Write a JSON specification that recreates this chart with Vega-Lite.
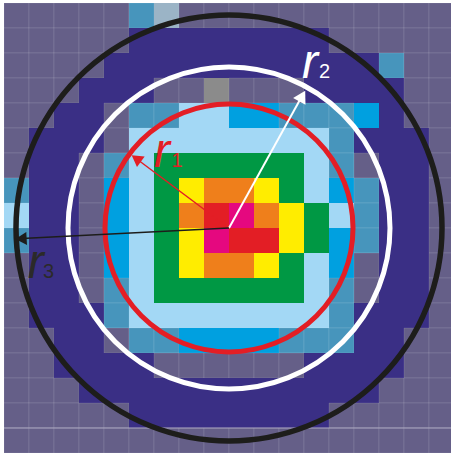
{
 "$schema": "https://vega.github.io/schema/vega-lite/v6.json",
 "width": 447, "height": 450,
 "autosize": {"type": "none"},
 "padding": {"left": 4, "top": 3, "right": 0, "bottom": 0},
 "background": "white",
 "config": {"view": {"stroke": null}},
 "datasets": {
  "cells": [
{"c":0,"r":0,"k":"b"},{"c":1,"r":0,"k":"b"},{"c":2,"r":0,"k":"b"},{"c":3,"r":0,"k":"b"},{"c":4,"r":0,"k":"b"},{"c":5,"r":0,"k":"s"},{"c":6,"r":0,"k":"p"},{"c":7,"r":0,"k":"b"},{"c":8,"r":0,"k":"b"},{"c":9,"r":0,"k":"b"},{"c":10,"r":0,"k":"b"},{"c":11,"r":0,"k":"b"},{"c":12,"r":0,"k":"b"},{"c":13,"r":0,"k":"b"},{"c":14,"r":0,"k":"b"},{"c":15,"r":0,"k":"b"},{"c":16,"r":0,"k":"b"},{"c":17,"r":0,"k":"b"},
{"c":0,"r":1,"k":"b"},{"c":1,"r":1,"k":"b"},{"c":2,"r":1,"k":"b"},{"c":3,"r":1,"k":"b"},{"c":4,"r":1,"k":"b"},{"c":5,"r":1,"k":"n"},{"c":6,"r":1,"k":"n"},{"c":7,"r":1,"k":"n"},{"c":8,"r":1,"k":"n"},{"c":9,"r":1,"k":"n"},{"c":10,"r":1,"k":"n"},{"c":11,"r":1,"k":"n"},{"c":12,"r":1,"k":"n"},{"c":13,"r":1,"k":"b"},{"c":14,"r":1,"k":"b"},{"c":15,"r":1,"k":"b"},{"c":16,"r":1,"k":"b"},{"c":17,"r":1,"k":"b"},
{"c":0,"r":2,"k":"b"},{"c":1,"r":2,"k":"b"},{"c":2,"r":2,"k":"b"},{"c":3,"r":2,"k":"b"},{"c":4,"r":2,"k":"n"},{"c":5,"r":2,"k":"n"},{"c":6,"r":2,"k":"n"},{"c":7,"r":2,"k":"n"},{"c":8,"r":2,"k":"n"},{"c":9,"r":2,"k":"n"},{"c":10,"r":2,"k":"n"},{"c":11,"r":2,"k":"n"},{"c":12,"r":2,"k":"n"},{"c":13,"r":2,"k":"n"},{"c":14,"r":2,"k":"n"},{"c":15,"r":2,"k":"s"},{"c":16,"r":2,"k":"b"},{"c":17,"r":2,"k":"b"},
{"c":0,"r":3,"k":"b"},{"c":1,"r":3,"k":"b"},{"c":2,"r":3,"k":"b"},{"c":3,"r":3,"k":"n"},{"c":4,"r":3,"k":"n"},{"c":5,"r":3,"k":"n"},{"c":6,"r":3,"k":"b"},{"c":7,"r":3,"k":"b"},{"c":8,"r":3,"k":"g"},{"c":9,"r":3,"k":"b"},{"c":10,"r":3,"k":"b"},{"c":11,"r":3,"k":"b"},{"c":12,"r":3,"k":"n"},{"c":13,"r":3,"k":"n"},{"c":14,"r":3,"k":"n"},{"c":15,"r":3,"k":"n"},{"c":16,"r":3,"k":"b"},{"c":17,"r":3,"k":"b"},
{"c":0,"r":4,"k":"b"},{"c":1,"r":4,"k":"b"},{"c":2,"r":4,"k":"n"},{"c":3,"r":4,"k":"n"},{"c":4,"r":4,"k":"b"},{"c":5,"r":4,"k":"s"},{"c":6,"r":4,"k":"s"},{"c":7,"r":4,"k":"l"},{"c":8,"r":4,"k":"l"},{"c":9,"r":4,"k":"B"},{"c":10,"r":4,"k":"B"},{"c":11,"r":4,"k":"s"},{"c":12,"r":4,"k":"s"},{"c":13,"r":4,"k":"s"},{"c":14,"r":4,"k":"B"},{"c":15,"r":4,"k":"n"},{"c":16,"r":4,"k":"b"},{"c":17,"r":4,"k":"b"},
{"c":0,"r":5,"k":"b"},{"c":1,"r":5,"k":"n"},{"c":2,"r":5,"k":"n"},{"c":3,"r":5,"k":"n"},{"c":4,"r":5,"k":"b"},{"c":5,"r":5,"k":"l"},{"c":6,"r":5,"k":"l"},{"c":7,"r":5,"k":"l"},{"c":8,"r":5,"k":"l"},{"c":9,"r":5,"k":"l"},{"c":10,"r":5,"k":"l"},{"c":11,"r":5,"k":"l"},{"c":12,"r":5,"k":"l"},{"c":13,"r":5,"k":"s"},{"c":14,"r":5,"k":"n"},{"c":15,"r":5,"k":"n"},{"c":16,"r":5,"k":"n"},{"c":17,"r":5,"k":"b"},
{"c":0,"r":6,"k":"b"},{"c":1,"r":6,"k":"n"},{"c":2,"r":6,"k":"n"},{"c":3,"r":6,"k":"b"},{"c":4,"r":6,"k":"s"},{"c":5,"r":6,"k":"l"},{"c":6,"r":6,"k":"G"},{"c":7,"r":6,"k":"G"},{"c":8,"r":6,"k":"G"},{"c":9,"r":6,"k":"G"},{"c":10,"r":6,"k":"G"},{"c":11,"r":6,"k":"G"},{"c":12,"r":6,"k":"l"},{"c":13,"r":6,"k":"s"},{"c":14,"r":6,"k":"b"},{"c":15,"r":6,"k":"n"},{"c":16,"r":6,"k":"n"},{"c":17,"r":6,"k":"b"},
{"c":0,"r":7,"k":"s"},{"c":1,"r":7,"k":"n"},{"c":2,"r":7,"k":"n"},{"c":3,"r":7,"k":"b"},{"c":4,"r":7,"k":"B"},{"c":5,"r":7,"k":"l"},{"c":6,"r":7,"k":"G"},{"c":7,"r":7,"k":"y"},{"c":8,"r":7,"k":"o"},{"c":9,"r":7,"k":"o"},{"c":10,"r":7,"k":"y"},{"c":11,"r":7,"k":"G"},{"c":12,"r":7,"k":"l"},{"c":13,"r":7,"k":"B"},{"c":14,"r":7,"k":"s"},{"c":15,"r":7,"k":"n"},{"c":16,"r":7,"k":"n"},{"c":17,"r":7,"k":"b"},
{"c":0,"r":8,"k":"l"},{"c":1,"r":8,"k":"n"},{"c":2,"r":8,"k":"n"},{"c":3,"r":8,"k":"b"},{"c":4,"r":8,"k":"B"},{"c":5,"r":8,"k":"l"},{"c":6,"r":8,"k":"G"},{"c":7,"r":8,"k":"o"},{"c":8,"r":8,"k":"R"},{"c":9,"r":8,"k":"m"},{"c":10,"r":8,"k":"o"},{"c":11,"r":8,"k":"y"},{"c":12,"r":8,"k":"G"},{"c":13,"r":8,"k":"l"},{"c":14,"r":8,"k":"s"},{"c":15,"r":8,"k":"n"},{"c":16,"r":8,"k":"n"},{"c":17,"r":8,"k":"b"},
{"c":0,"r":9,"k":"s"},{"c":1,"r":9,"k":"n"},{"c":2,"r":9,"k":"n"},{"c":3,"r":9,"k":"b"},{"c":4,"r":9,"k":"B"},{"c":5,"r":9,"k":"l"},{"c":6,"r":9,"k":"G"},{"c":7,"r":9,"k":"y"},{"c":8,"r":9,"k":"m"},{"c":9,"r":9,"k":"R"},{"c":10,"r":9,"k":"R"},{"c":11,"r":9,"k":"y"},{"c":12,"r":9,"k":"G"},{"c":13,"r":9,"k":"B"},{"c":14,"r":9,"k":"s"},{"c":15,"r":9,"k":"n"},{"c":16,"r":9,"k":"n"},{"c":17,"r":9,"k":"b"},
{"c":0,"r":10,"k":"b"},{"c":1,"r":10,"k":"n"},{"c":2,"r":10,"k":"n"},{"c":3,"r":10,"k":"b"},{"c":4,"r":10,"k":"B"},{"c":5,"r":10,"k":"l"},{"c":6,"r":10,"k":"G"},{"c":7,"r":10,"k":"y"},{"c":8,"r":10,"k":"o"},{"c":9,"r":10,"k":"o"},{"c":10,"r":10,"k":"y"},{"c":11,"r":10,"k":"G"},{"c":12,"r":10,"k":"l"},{"c":13,"r":10,"k":"B"},{"c":14,"r":10,"k":"b"},{"c":15,"r":10,"k":"n"},{"c":16,"r":10,"k":"n"},{"c":17,"r":10,"k":"b"},
{"c":0,"r":11,"k":"b"},{"c":1,"r":11,"k":"n"},{"c":2,"r":11,"k":"n"},{"c":3,"r":11,"k":"b"},{"c":4,"r":11,"k":"s"},{"c":5,"r":11,"k":"l"},{"c":6,"r":11,"k":"G"},{"c":7,"r":11,"k":"G"},{"c":8,"r":11,"k":"G"},{"c":9,"r":11,"k":"G"},{"c":10,"r":11,"k":"G"},{"c":11,"r":11,"k":"G"},{"c":12,"r":11,"k":"l"},{"c":13,"r":11,"k":"s"},{"c":14,"r":11,"k":"b"},{"c":15,"r":11,"k":"n"},{"c":16,"r":11,"k":"n"},{"c":17,"r":11,"k":"b"},
{"c":0,"r":12,"k":"b"},{"c":1,"r":12,"k":"n"},{"c":2,"r":12,"k":"n"},{"c":3,"r":12,"k":"n"},{"c":4,"r":12,"k":"s"},{"c":5,"r":12,"k":"l"},{"c":6,"r":12,"k":"l"},{"c":7,"r":12,"k":"l"},{"c":8,"r":12,"k":"l"},{"c":9,"r":12,"k":"l"},{"c":10,"r":12,"k":"l"},{"c":11,"r":12,"k":"l"},{"c":12,"r":12,"k":"l"},{"c":13,"r":12,"k":"s"},{"c":14,"r":12,"k":"n"},{"c":15,"r":12,"k":"n"},{"c":16,"r":12,"k":"n"},{"c":17,"r":12,"k":"b"},
{"c":0,"r":13,"k":"b"},{"c":1,"r":13,"k":"b"},{"c":2,"r":13,"k":"n"},{"c":3,"r":13,"k":"n"},{"c":4,"r":13,"k":"b"},{"c":5,"r":13,"k":"s"},{"c":6,"r":13,"k":"s"},{"c":7,"r":13,"k":"B"},{"c":8,"r":13,"k":"B"},{"c":9,"r":13,"k":"B"},{"c":10,"r":13,"k":"B"},{"c":11,"r":13,"k":"s"},{"c":12,"r":13,"k":"s"},{"c":13,"r":13,"k":"s"},{"c":14,"r":13,"k":"n"},{"c":15,"r":13,"k":"n"},{"c":16,"r":13,"k":"b"},{"c":17,"r":13,"k":"b"},
{"c":0,"r":14,"k":"b"},{"c":1,"r":14,"k":"b"},{"c":2,"r":14,"k":"n"},{"c":3,"r":14,"k":"n"},{"c":4,"r":14,"k":"n"},{"c":5,"r":14,"k":"n"},{"c":6,"r":14,"k":"b"},{"c":7,"r":14,"k":"b"},{"c":8,"r":14,"k":"b"},{"c":9,"r":14,"k":"b"},{"c":10,"r":14,"k":"b"},{"c":11,"r":14,"k":"b"},{"c":12,"r":14,"k":"n"},{"c":13,"r":14,"k":"n"},{"c":14,"r":14,"k":"n"},{"c":15,"r":14,"k":"n"},{"c":16,"r":14,"k":"b"},{"c":17,"r":14,"k":"b"},
{"c":0,"r":15,"k":"b"},{"c":1,"r":15,"k":"b"},{"c":2,"r":15,"k":"b"},{"c":3,"r":15,"k":"n"},{"c":4,"r":15,"k":"n"},{"c":5,"r":15,"k":"n"},{"c":6,"r":15,"k":"n"},{"c":7,"r":15,"k":"n"},{"c":8,"r":15,"k":"n"},{"c":9,"r":15,"k":"n"},{"c":10,"r":15,"k":"n"},{"c":11,"r":15,"k":"n"},{"c":12,"r":15,"k":"n"},{"c":13,"r":15,"k":"n"},{"c":14,"r":15,"k":"n"},{"c":15,"r":15,"k":"b"},{"c":16,"r":15,"k":"b"},{"c":17,"r":15,"k":"b"},
{"c":0,"r":16,"k":"b"},{"c":1,"r":16,"k":"b"},{"c":2,"r":16,"k":"b"},{"c":3,"r":16,"k":"b"},{"c":4,"r":16,"k":"b"},{"c":5,"r":16,"k":"n"},{"c":6,"r":16,"k":"n"},{"c":7,"r":16,"k":"n"},{"c":8,"r":16,"k":"n"},{"c":9,"r":16,"k":"n"},{"c":10,"r":16,"k":"n"},{"c":11,"r":16,"k":"n"},{"c":12,"r":16,"k":"n"},{"c":13,"r":16,"k":"b"},{"c":14,"r":16,"k":"b"},{"c":15,"r":16,"k":"b"},{"c":16,"r":16,"k":"b"},{"c":17,"r":16,"k":"b"},
{"c":0,"r":17,"k":"b"},{"c":1,"r":17,"k":"b"},{"c":2,"r":17,"k":"b"},{"c":3,"r":17,"k":"b"},{"c":4,"r":17,"k":"b"},{"c":5,"r":17,"k":"b"},{"c":6,"r":17,"k":"b"},{"c":7,"r":17,"k":"b"},{"c":8,"r":17,"k":"b"},{"c":9,"r":17,"k":"b"},{"c":10,"r":17,"k":"b"},{"c":11,"r":17,"k":"b"},{"c":12,"r":17,"k":"b"},{"c":13,"r":17,"k":"b"},{"c":14,"r":17,"k":"b"},{"c":15,"r":17,"k":"b"},{"c":16,"r":17,"k":"b"},{"c":17,"r":17,"k":"b"}
  ]
 },
 "layer": [
  {
   "data": {"name": "cells"},
   "mark": {"type": "rect", "width": 25, "height": 25, "clip": true, "stroke": "#ffffff", "strokeWidth": 1},
   "encoding": {
    "x": {"field": "c", "type": "quantitative", "scale": {"domain": [-0.5, 17.38], "nice": false, "zero": false}, "axis": null},
    "y": {"field": "r", "type": "quantitative", "scale": {"domain": [-0.5, 17.5], "nice": false, "zero": false, "reverse": true}, "axis": null},
    "color": {"field": "k", "type": "nominal", "legend": null,
      "scale": {"domain": ["b","n","s","p","g","B","l","G","y","o","R","m"],
                "range": ["#655f88","#3a2f85","#4795bc","#9bb4c6","#8b8b8b","#00a0e0","#a3d8f5","#009844","#ffed00","#ef7f1b","#e31e25","#e5087f"]}},
    "strokeOpacity": {"condition": {"test": "datum.k === 'b' || datum.k === 's'", "value": 0.1}, "value": 0}
   }
  },
  {
   "data": {"values": [{"y": 16.5}]},
   "mark": {"type": "rule", "color": "#a7a3bd", "strokeWidth": 1.2},
   "encoding": {
    "y": {"field": "y", "type": "quantitative", "scale": {"domain": [-0.5, 17.5], "nice": false, "zero": false, "reverse": true}, "axis": null}
   }
  },
  {
   "data": {"values": [{"x": 8.5, "y": 8.5, "ring": "r1"}]},
   "mark": {"type": "point", "shape": "circle", "filled": false, "size": 61504, "stroke": "#e31e25", "strokeWidth": 5, "opacity": 1},
   "encoding": {
    "x": {"field": "x", "type": "quantitative", "scale": {"domain": [-0.5, 17.38], "nice": false, "zero": false}, "axis": null},
    "y": {"field": "y", "type": "quantitative", "scale": {"domain": [-0.5, 17.5], "nice": false, "zero": false, "reverse": true}, "axis": null}
   }
  },
  {
   "data": {"values": [{"x": 8.5, "y": 8.5, "ring": "r2"}]},
   "mark": {"type": "point", "shape": "circle", "filled": false, "size": 103684, "stroke": "#ffffff", "strokeWidth": 5, "opacity": 1},
   "encoding": {
    "x": {"field": "x", "type": "quantitative", "scale": {"domain": [-0.5, 17.38], "nice": false, "zero": false}, "axis": null},
    "y": {"field": "y", "type": "quantitative", "scale": {"domain": [-0.5, 17.5], "nice": false, "zero": false, "reverse": true}, "axis": null}
   }
  },
  {
   "data": {"values": [{"x": 8.5, "y": 8.5, "ring": "r3"}]},
   "mark": {"type": "point", "shape": "circle", "filled": false, "size": 181476, "stroke": "#1d1d1b", "strokeWidth": 5.5, "opacity": 1},
   "encoding": {
    "x": {"field": "x", "type": "quantitative", "scale": {"domain": [-0.5, 17.38], "nice": false, "zero": false}, "axis": null},
    "y": {"field": "y", "type": "quantitative", "scale": {"domain": [-0.5, 17.5], "nice": false, "zero": false, "reverse": true}, "axis": null}
   }
  },
  {
   "data": {"values": [{"x": 8.5, "y": 8.5, "x2": 4.81, "y2": 5.74}]},
   "mark": {"type": "rule", "color": "#e31e25", "strokeWidth": 1.5},
   "encoding": {
    "x": {"field": "x", "type": "quantitative", "scale": {"domain": [-0.5, 17.38], "nice": false, "zero": false}, "axis": null},
    "y": {"field": "y", "type": "quantitative", "scale": {"domain": [-0.5, 17.5], "nice": false, "zero": false, "reverse": true}, "axis": null},
    "x2": {"field": "x2"}, "y2": {"field": "y2"}
   }
  },
  {
   "data": {"values": [{"x": 8.5, "y": 8.5, "x2": 11.4, "y2": 3.26}]},
   "mark": {"type": "rule", "color": "#ffffff", "strokeWidth": 2},
   "encoding": {
    "x": {"field": "x", "type": "quantitative", "scale": {"domain": [-0.5, 17.38], "nice": false, "zero": false}, "axis": null},
    "y": {"field": "y", "type": "quantitative", "scale": {"domain": [-0.5, 17.5], "nice": false, "zero": false, "reverse": true}, "axis": null},
    "x2": {"field": "x2"}, "y2": {"field": "y2"}
   }
  },
  {
   "data": {"values": [{"x": 8.5, "y": 8.5, "x2": 0.22, "y2": 8.92}]},
   "mark": {"type": "rule", "color": "#1d1d1b", "strokeWidth": 1.5},
   "encoding": {
    "x": {"field": "x", "type": "quantitative", "scale": {"domain": [-0.5, 17.38], "nice": false, "zero": false}, "axis": null},
    "y": {"field": "y", "type": "quantitative", "scale": {"domain": [-0.5, 17.5], "nice": false, "zero": false, "reverse": true}, "axis": null},
    "x2": {"field": "x2"}, "y2": {"field": "y2"}
   }
  },
  {
   "data": {"values": [{"x": 4.79, "y": 5.72}]},
   "mark": {"type": "point", "shape": "triangle-up", "filled": true, "size": 170, "color": "#e31e25", "opacity": 1, "angle": 306},
   "encoding": {
    "x": {"field": "x", "type": "quantitative", "scale": {"domain": [-0.5, 17.38], "nice": false, "zero": false}, "axis": null},
    "y": {"field": "y", "type": "quantitative", "scale": {"domain": [-0.5, 17.5], "nice": false, "zero": false, "reverse": true}, "axis": null}
   }
  },
  {
   "data": {"values": [{"x": 11.43, "y": 3.22}]},
   "mark": {"type": "point", "shape": "triangle-up", "filled": true, "size": 200, "color": "#ffffff", "opacity": 1, "angle": 29},
   "encoding": {
    "x": {"field": "x", "type": "quantitative", "scale": {"domain": [-0.5, 17.38], "nice": false, "zero": false}, "axis": null},
    "y": {"field": "y", "type": "quantitative", "scale": {"domain": [-0.5, 17.5], "nice": false, "zero": false, "reverse": true}, "axis": null}
   }
  },
  {
   "data": {"values": [{"x": 0.18, "y": 8.93}]},
   "mark": {"type": "point", "shape": "triangle-up", "filled": true, "size": 170, "color": "#1d1d1b", "opacity": 1, "angle": 267},
   "encoding": {
    "x": {"field": "x", "type": "quantitative", "scale": {"domain": [-0.5, 17.38], "nice": false, "zero": false}, "axis": null},
    "y": {"field": "y", "type": "quantitative", "scale": {"domain": [-0.5, 17.5], "nice": false, "zero": false, "reverse": true}, "axis": null}
   }
  },
  {
   "data": {"values": [{"x": 5.5, "y": 6.06, "t": "r"}]},
   "mark": {"type": "text", "font": "Liberation Sans", "fontStyle": "italic", "fontSize": 48, "align": "left", "baseline": "alphabetic", "color": "#e31e25"},
   "encoding": {
    "x": {"field": "x", "type": "quantitative", "scale": {"domain": [-0.5, 17.38], "nice": false, "zero": false}, "axis": null},
    "y": {"field": "y", "type": "quantitative", "scale": {"domain": [-0.5, 17.5], "nice": false, "zero": false, "reverse": true}, "axis": null},
    "text": {"field": "t"}
   }
  },
  {
   "data": {"values": [{"x": 6.2, "y": 6.06, "t": "1"}]},
   "mark": {"type": "text", "font": "Liberation Sans", "fontSize": 20, "align": "left", "baseline": "alphabetic", "color": "#e31e25"},
   "encoding": {
    "x": {"field": "x", "type": "quantitative", "scale": {"domain": [-0.5, 17.38], "nice": false, "zero": false}, "axis": null},
    "y": {"field": "y", "type": "quantitative", "scale": {"domain": [-0.5, 17.5], "nice": false, "zero": false, "reverse": true}, "axis": null},
    "text": {"field": "t"}
   }
  },
  {
   "data": {"values": [{"x": 11.42, "y": 2.5, "t": "r"}]},
   "mark": {"type": "text", "font": "Liberation Sans", "fontStyle": "italic", "fontSize": 48, "align": "left", "baseline": "alphabetic", "color": "#ffffff"},
   "encoding": {
    "x": {"field": "x", "type": "quantitative", "scale": {"domain": [-0.5, 17.38], "nice": false, "zero": false}, "axis": null},
    "y": {"field": "y", "type": "quantitative", "scale": {"domain": [-0.5, 17.5], "nice": false, "zero": false, "reverse": true}, "axis": null},
    "text": {"field": "t"}
   }
  },
  {
   "data": {"values": [{"x": 12.1, "y": 2.5, "t": "2"}]},
   "mark": {"type": "text", "font": "Liberation Sans", "fontSize": 20, "align": "left", "baseline": "alphabetic", "color": "#ffffff"},
   "encoding": {
    "x": {"field": "x", "type": "quantitative", "scale": {"domain": [-0.5, 17.38], "nice": false, "zero": false}, "axis": null},
    "y": {"field": "y", "type": "quantitative", "scale": {"domain": [-0.5, 17.5], "nice": false, "zero": false, "reverse": true}, "axis": null},
    "text": {"field": "t"}
   }
  },
  {
   "data": {"values": [{"x": 0.45, "y": 10.5, "t": "r"}]},
   "mark": {"type": "text", "font": "Liberation Sans", "fontStyle": "italic", "fontSize": 48, "align": "left", "baseline": "alphabetic", "color": "#2b2a29"},
   "encoding": {
    "x": {"field": "x", "type": "quantitative", "scale": {"domain": [-0.5, 17.38], "nice": false, "zero": false}, "axis": null},
    "y": {"field": "y", "type": "quantitative", "scale": {"domain": [-0.5, 17.5], "nice": false, "zero": false, "reverse": true}, "axis": null},
    "text": {"field": "t"}
   }
  },
  {
   "data": {"values": [{"x": 1.06, "y": 10.5, "t": "3"}]},
   "mark": {"type": "text", "font": "Liberation Sans", "fontSize": 20, "align": "left", "baseline": "alphabetic", "color": "#2b2a29"},
   "encoding": {
    "x": {"field": "x", "type": "quantitative", "scale": {"domain": [-0.5, 17.38], "nice": false, "zero": false}, "axis": null},
    "y": {"field": "y", "type": "quantitative", "scale": {"domain": [-0.5, 17.5], "nice": false, "zero": false, "reverse": true}, "axis": null},
    "text": {"field": "t"}
   }
  }
 ]
}
